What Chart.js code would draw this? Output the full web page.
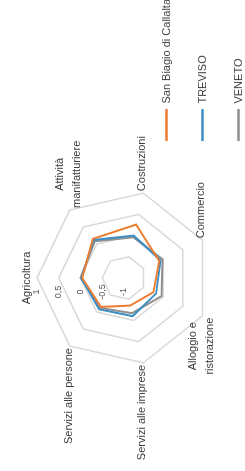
<!DOCTYPE html>
<html><head><meta charset="utf-8">
<script src="https://cdn.jsdelivr.net/npm/chart.js@4/dist/chart.umd.min.js"></script>
<style>
html,body{margin:0;padding:0;background:#fff;width:245px;height:471px;overflow:hidden}
#wrap{position:absolute;left:0;top:0;width:500px;height:275px;transform-origin:0 0;transform:translate(0px,471px) rotate(-90deg)}
canvas{display:block}
</style></head><body>
<div id="wrap"><canvas id="c" width="500" height="275" style="width:500px;height:275px"></canvas></div>
<script>
const categories = ['Agricoltura', ['Attività', 'manifatturiere'], 'Costruzioni', 'Commercio', ['Alloggio e', 'ristorazione'], 'Servizi alle imprese', 'Servizi alle persone'];
const seriesNames = ['San Biagio di Callalta', 'TREVISO', 'VENETO'];
const sanBiagio = [-0.04, 0.15, 0.26, -0.10, -0.25, -0.35, -0.15];
const treviso   = [-0.02, 0.12, 0.00, -0.07, -0.18, -0.10, -0.08];
const veneto    = [0.00, 0.08, -0.04, -0.02, -0.04, -0.17, -0.12];
const tickValues = [-1, -0.5, 0, 0.5, 1];
const tickLabels = ['-1', '-0,5', '0', '0,5', '1'];

const FONT = "'Liberation Sans', Arial, sans-serif";
const colors = ['#ED7D31', '#3B8FC4', '#8F8F8F'];

const axisText = {
  id: 'axisText',
  afterDraw(chart) {
    const s = chart.scales.r, ctx = chart.ctx;
    ctx.save();
    ctx.textBaseline = 'middle';
    ctx.textAlign = 'center';
    ctx.fillStyle = '#595959';
    ctx.font = '9px ' + FONT;
    s.ticks.forEach(t => {
      const k = tickValues.indexOf(t.value);
      if (k < 0) return;
      const y = s.yCenter - s.getDistanceFromCenterForValue(t.value);
      ctx.fillText(tickLabels[k], s.xCenter - 14, y);
    });
    ctx.font = '11px ' + FONT;
    ctx.fillStyle = '#3a3a3a';
    const lh = 17;
    chart.data.labels.forEach((lab, i) => {
      const lines = Array.isArray(lab) ? lab : [lab];
      const p = s.getPointPosition(i, s.drawingArea);
      const ang = s.getIndexAngle(i);
      const sn = Math.sin(ang);
      const bw = Math.max(...lines.map(l => ctx.measureText(l).width));
      let cx, cy;
      if (sn > 0.05) { cx = p.x + 2 + bw / 2; cy = p.y - 1; }
      else if (sn < -0.05) { cx = p.x - 2 - bw / 2; cy = p.y - 1; }
      else { cx = p.x; cy = p.y - 10; }
      const y0 = cy - (lines.length - 1) * lh / 2;
      lines.forEach((l, j) => ctx.fillText(l, cx, y0 + j * lh));
    });
    ctx.restore();
  }
};

const series = [sanBiagio, treviso, veneto];
new Chart(document.getElementById('c'), {
  type: 'radar',
  data: {
    labels: categories,
    datasets: series.map((d, i) => ({
      label: seriesNames[i],
      data: d,
      borderColor: colors[i],
      backgroundColor: 'transparent',
      borderWidth: 2,
      pointRadius: 0,
      pointHoverRadius: 0,
      fill: false,
      tension: 0
    }))
  },
  options: {
    responsive: false,
    devicePixelRatio: 1,
    animation: false,
    layout: { padding: { left: 0, top: 0, right: 18, bottom: 6 } },
    plugins: {
      tooltip: { enabled: false },
      legend: {
        position: 'right',
        align: 'end',
        labels: {
          usePointStyle: true,
          pointStyle: 'line',
          pointStyleWidth: 32,
          padding: 25,
          color: '#404040',
          font: { family: FONT, size: 11 },
          generateLabels: (chart) => Chart.defaults.plugins.legend.labels.generateLabels(chart).map(l => Object.assign(l, { lineWidth: 2.5 }))
        }
      }
    },
    scales: {
      r: {
        min: tickValues[0],
        max: tickValues[tickValues.length - 1],
        ticks: { display: false, stepSize: 0.5 },
        pointLabels: { display: false },
        angleLines: { display: false },
        grid: { color: '#d9d9d9', lineWidth: 1.5 },
        afterFit: (sc) => { sc.xCenter = 193; sc.yCenter = 124; sc.drawingArea = 87; }
      }
    }
  },
  plugins: [axisText]
});
</script>
</body></html>
